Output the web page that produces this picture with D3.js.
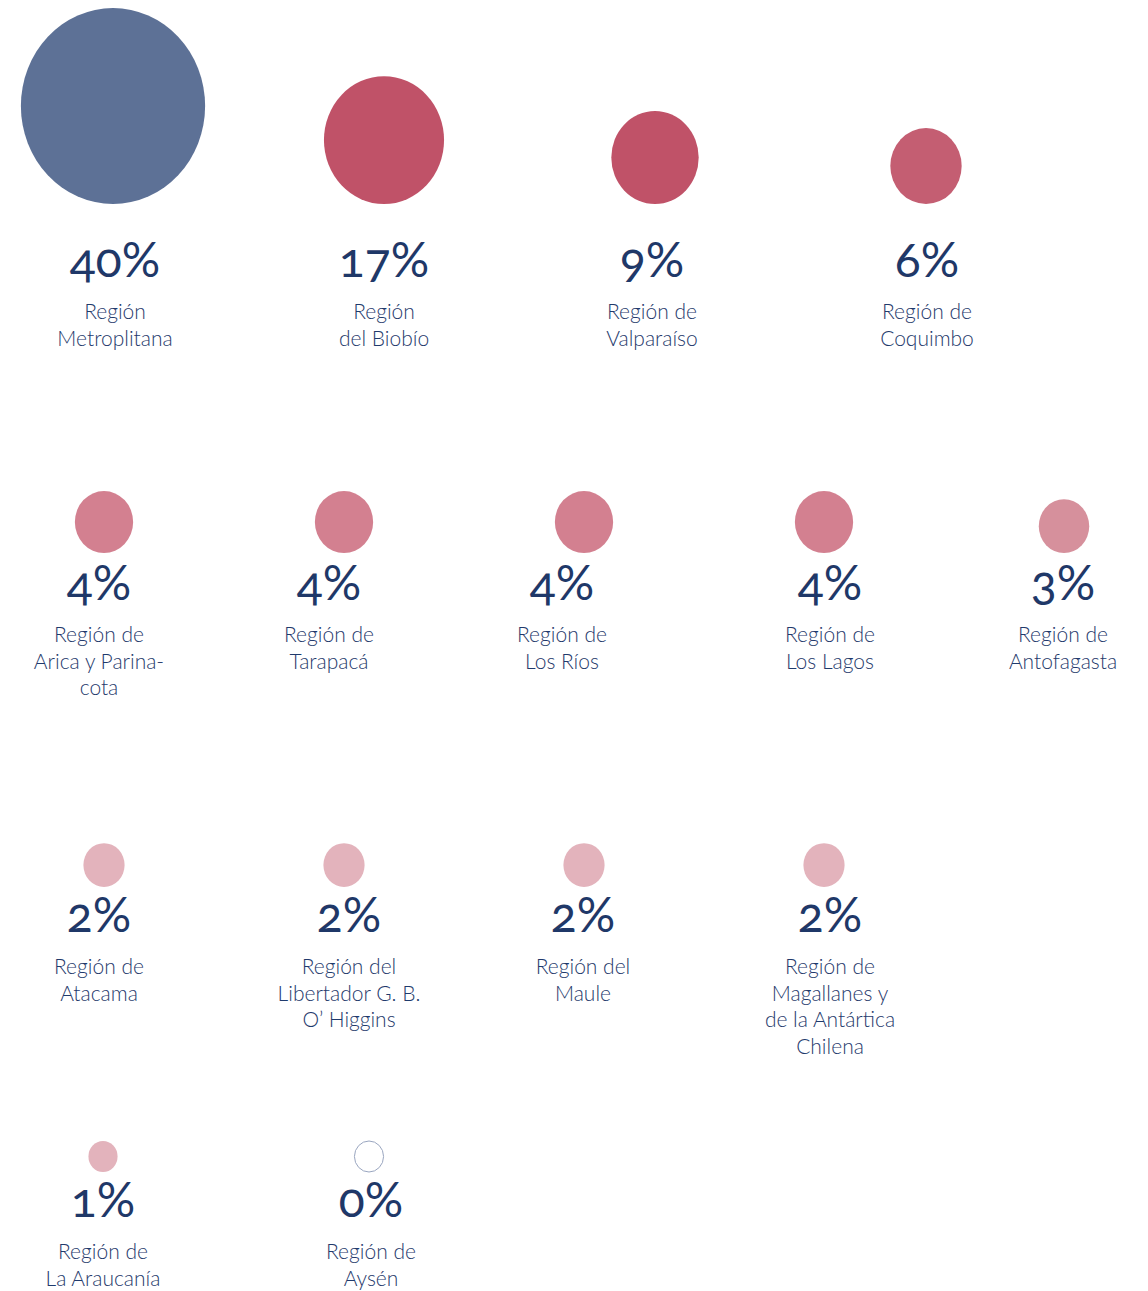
<!DOCTYPE html>
<html>
<head>
<meta charset="utf-8">
<script src="https://cdn.jsdelivr.net/npm/d3@7"></script>
<style>
  body { margin: 0; background: #fff; }
  svg { display: block; }
  .pct { font-family: Lato, "Open Sans", sans-serif; font-variant-numeric: oldstyle-nums; font-feature-settings: "onum" 1; }
  .lbl { font-family: Lato, "Open Sans", sans-serif; }
</style>
</head>
<body>
<div id="mychart"></div>
<script>
// data
const regions = [
  "Región\nMetroplitana",
  "Región\ndel Biobío",
  "Región de\nValparaíso",
  "Región de\nCoquimbo",
  "Región de\nArica y Parina-\ncota",
  "Región de\nTarapacá",
  "Región de\nLos Ríos",
  "Región de\nLos Lagos",
  "Región de\nAntofagasta",
  "Región de\nAtacama",
  "Región del\nLibertador G. B.\nO’ Higgins",
  "Región del\nMaule",
  "Región de\nMagallanes y\nde la Antártica\nChilena",
  "Región de\nLa Araucanía",
  "Región de\nAysén"
];
const shares = [40, 17, 9, 6, 4, 4, 4, 4, 3, 2, 2, 2, 2, 1, 0];

// layout of the rows: bubble columns, text columns, baseline of the bubbles
const rows = [
  { count: 4, x0: 113, step: 271, lx: [115, 384, 652, 927], base: 204, gap: 73 },
  { count: 5, x0: 104, step: 240, lx: [99, 329, 562, 830, 1063], base: 553, gap: 47 },
  { count: 4, x0: 104, step: 240, lx: [99, 349, 583, 830], base: 887, gap: 45 },
  { count: 2, x0: 103, step: 266, lx: [103, 371], base: 1172, gap: 45 }
];

const width = 1148;
const height = 1291;

const r = d3.scaleSqrt().domain([0, 40]).range([0, 98]);
const color = d3.scaleThreshold()
  .domain([2.5, 3.5, 5, 7, 20])
  .range(["#e3b3bc", "#d6909c", "#d38090", "#c45e72", "#c05268", "#5d7196"]);

const items = [];
let k = 0;
rows.forEach(row => {
  const x = d3.scaleLinear().domain([0, 1]).range([row.x0, row.x0 + row.step]);
  for (let i = 0; i < row.count; i++, k++) {
    items.push({ label: regions[k], value: shares[k], x: x(i), tx: row.lx[i], row: row });
  }
});

const svg = d3.select("#mychart")
  .append("svg")
    .attr("width", width)
    .attr("height", height)
    .attr("viewBox", [0, 0, width, height]);

const node = svg.append("g")
  .selectAll("g")
  .data(items)
  .join("g");

node.append("ellipse")
  .attr("cx", d => d.x)
  .attr("cy", d => d.row.base - r(Math.max(d.value, 1)))
  .attr("ry", d => r(Math.max(d.value, 1)))
  .attr("rx", d => r(Math.max(d.value, 1)) * 0.94)
  .attr("fill", d => d.value > 0 ? color(d.value) : "#fff")
  .attr("stroke", d => d.value > 0 ? "none" : "#9aa6c0")
  .attr("stroke-width", 1);

node.append("text")
  .attr("class", "pct")
  .attr("x", d => d.tx)
  .attr("y", d => d.row.base + d.row.gap)
  .attr("text-anchor", "middle")
  .attr("font-size", 48)
  .attr("fill", "#1f3868")
  .text(d => d.value + "%");

node.append("text")
  .attr("class", "lbl")
  .attr("text-anchor", "middle")
  .attr("font-size", 21)
  .attr("font-weight", 300)
  .attr("fill", "#1f3a6c")
  .selectAll("tspan")
  .data(d => d.label.split("\n").map((t, i) => ({ t, i, x: d.tx, y: d.row.base + d.row.gap + 42 })))
  .join("tspan")
    .attr("x", d => d.x)
    .attr("y", d => d.y + d.i * 26.5)
    .text(d => d.t);
</script>
</body>
</html>
